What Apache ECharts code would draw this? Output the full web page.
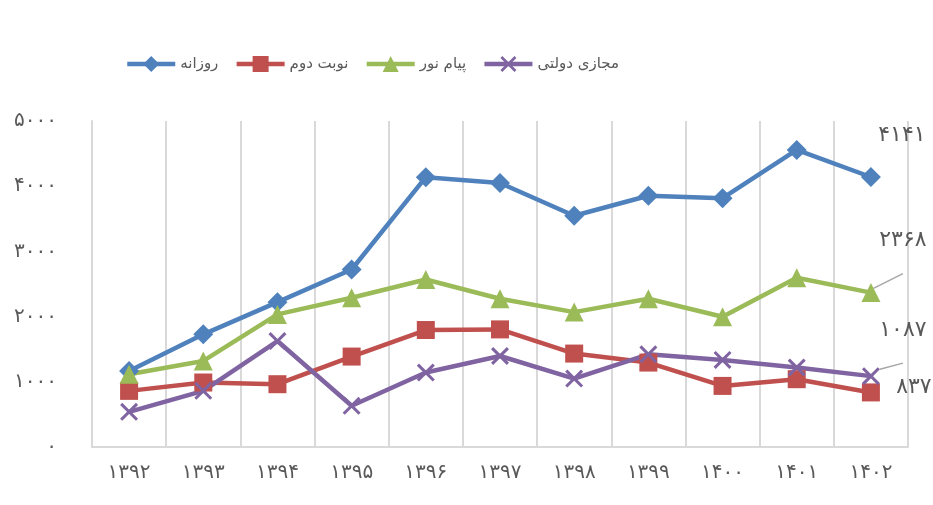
<!DOCTYPE html>
<html lang="fa">
<head>
<meta charset="UTF-8">
<title>chart</title>
<script src="https://cdn.jsdelivr.net/npm/echarts@6/dist/echarts.min.js"></script>
<style>
    html, body { margin: 0; padding: 0; background: #fff; }
    #chart { width: 933px; height: 505px; }
</style>
</head>
<body>
<div id="chart"></div>
<script>
    // years (Persian digits as shown on the axis)
    const years = ['۱۳۹۲', '۱۳۹۳', '۱۳۹۴', '۱۳۹۵', '۱۳۹۶', '۱۳۹۷', '۱۳۹۸', '۱۳۹۹', '۱۴۰۰', '۱۴۰۱', '۱۴۰۲'];
    const seriesNames = ['روزانه', 'نوبت دوم', 'پیام نور', 'مجازی دولتی'];

    const daily = [1166, 1728, 2222, 2722, 4139, 4050, 3547, 3853, 3817, 4557, 4141];
    const evening = [861, 989, 963, 1387, 1794, 1804, 1433, 1295, 937, 1040, 837];
    const payameNoor = [1116, 1320, 2034, 2289, 2569, 2273, 2069, 2273, 1998, 2595, 2368];
    const virtualGov = [540, 861, 1625, 632, 1142, 1396, 1050, 1422, 1335, 1219, 1087];

    const yTicks = [0, 1000, 2000, 3000, 4000, 5000];

    const font = 'DejaVu Sans';
    const gray = '#595959';

    function fa(n) {
        return String(n).replace(/\d/g, d => '۰۱۲۳۴۵۶۷۸۹'[d]);
    }

    // only the last point gets a value label
    function withLastLabel(values) {
        return values.map(function (v, i) {
            if (i < values.length - 1) return v;
            return { value: v, label: { show: true } };
        });
    }

    const crossPath = 'path://M0,1.2 L1.2,0 L10,8.8 L8.8,10 Z M8.8,0 L10,1.2 L1.2,10 L0,8.8 Z';

    // pad: empty rows above/below the value, so the leader line meets the label lower down
    function makeSeries(name, values, color, symbol, size, dx, dy, showLine, pad) {
        return {
            name: name,
            type: 'line',
            data: withLastLabel(values),
            symbol: symbol,
            symbolSize: size,
            showAllSymbol: true,
            lineStyle: { color: color, width: 4.5 },
            itemStyle: { color: color },
            label: {
                show: false,
                position: 'inside',
                formatter: function (p) {
                    const t = '{t|' + fa(p.value) + '}';
                    return pad ? '{s|}\n' + t + '\n{s|}' : t;
                },
                rich: {
                    t: { fontFamily: font, fontSize: 22, color: gray, lineHeight: 26 },
                    s: { height: pad || 0, lineHeight: pad || 0 }
                }
            },
            labelLayout: { dx: dx, dy: dy },
            labelLine: {
                show: showLine,
                lineStyle: { color: '#a6a6a6', width: 1.5 }
            },
            emphasis: { disabled: true },
            animation: false
        };
    }

    const option = {
        backgroundColor: '#fff',
        textStyle: { fontFamily: font },
        legend: {
            left: 120,
            top: 51,
            itemWidth: 48,
            itemHeight: 20,
            itemGap: 16,
            lineStyle: { width: 4.5 },
            textStyle: { fontFamily: font, fontSize: 15, color: gray },
            data: seriesNames
        },
        grid: { left: 92, right: 25, top: 121, bottom: 58 },
        xAxis: {
            type: 'category',
            data: years,
            boundaryGap: true,
            axisLine: { show: true, lineStyle: { color: '#d9d9d9', width: 2 } },
            axisTick: { show: false },
            splitLine: { show: true, lineStyle: { color: '#d9d9d9', width: 2 } },
            axisLabel: { fontFamily: font, fontSize: 20, color: gray, margin: 16 }
        },
        yAxis: {
            type: 'value',
            min: yTicks[0],
            max: yTicks[yTicks.length - 1],
            interval: 1000,
            axisLine: { show: true, lineStyle: { color: '#d9d9d9', width: 2 } },
            axisTick: { show: false },
            splitLine: { show: false },
            axisLabel: {
                fontFamily: font, fontSize: 20, color: gray, margin: 35,
                formatter: function (v) { return fa(v); }
            }
        },
        series: [
            makeSeries(seriesNames[0], daily, '#4F81BD', 'diamond', 20, 31, -42, false),
            makeSeries(seriesNames[1], evening, '#C0504D', 'rect', 18, 43, -5, false),
            makeSeries(seriesNames[2], payameNoor, '#9BBB59', 'triangle', 19, 32, -52, true, 20),
            makeSeries(seriesNames[3], virtualGov, '#8064A2', crossPath, 18, 32, -46, true, 20)
        ]
    };

    const chart = echarts.init(document.getElementById('chart'), null, { renderer: 'canvas' });
    chart.setOption(option);
</script>
</body>
</html>
